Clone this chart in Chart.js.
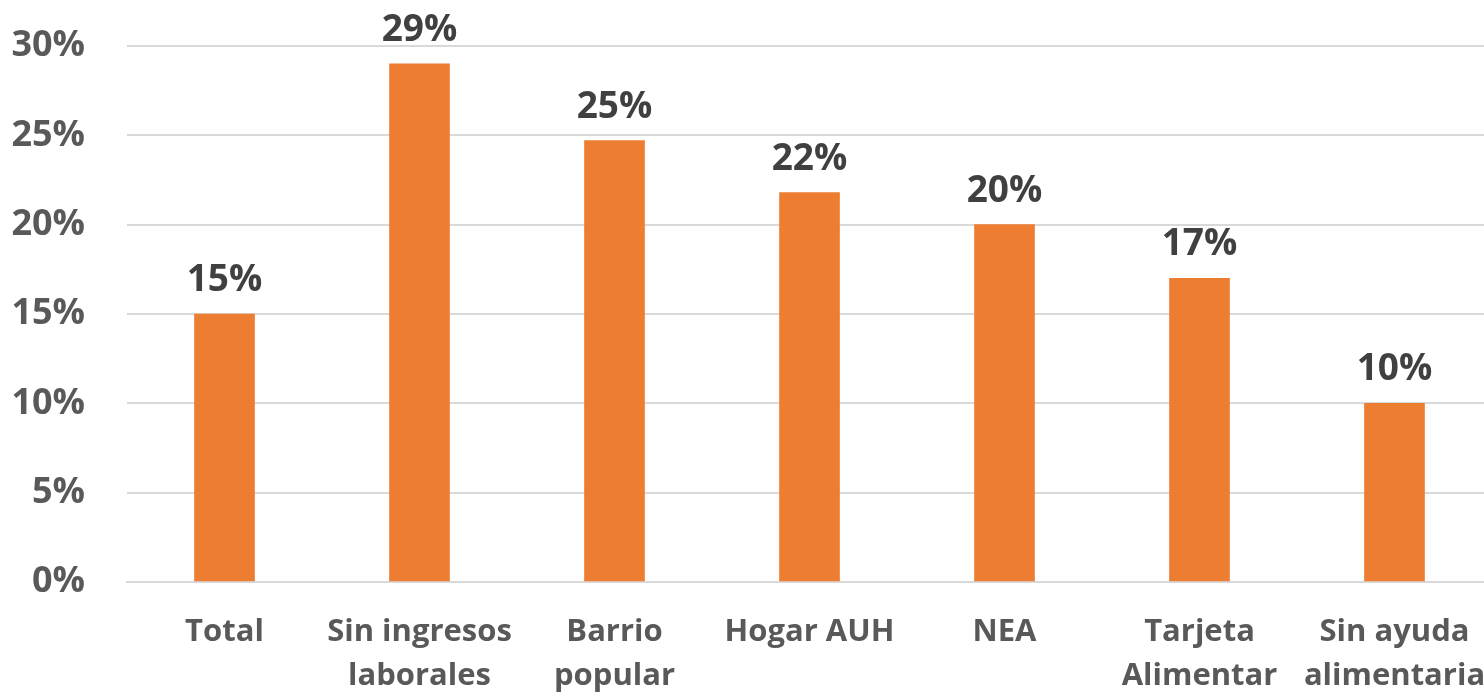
<!DOCTYPE html>
<html>
<head>
<meta charset="utf-8">
<script src="https://cdn.jsdelivr.net/npm/chart.js@4"></script>
<style>
html,body{margin:0;padding:0;background:#fff;overflow:hidden;}
#wrap{position:relative;width:1492px;height:693px;}
</style>
</head>
<body>
<div id="wrap"><canvas id="c"></canvas></div>
<script>
const categories = [["Total"], ["Sin ingresos", "laborales"], ["Barrio", "popular"], ["Hogar AUH"], ["NEA"], ["Tarjeta", "Alimentar"], ["Sin ayuda", "alimentaria"]];
const values = [15.0, 29.0, 24.7, 21.8, 20.0, 17.0, 10.0];
const valueLabels = ["15%", "29%", "25%", "22%", "20%", "17%", "10%"];
const yTicks = [0, 5, 10, 15, 20, 25, 30];

const FONT = "'Open Sans', Lato, sans-serif";

const labelPlugin = {
  id: 'barLabels',
  afterDatasetsDraw(chart) {
    const ctx = chart.ctx;
    const meta = chart.getDatasetMeta(0);
    ctx.save();
    ctx.font = "bold 37px " + FONT;
    ctx.fillStyle = "#404040";
    ctx.textAlign = "center";
    ctx.textBaseline = "alphabetic";
    meta.data.forEach((bar, i) => {
      ctx.fillText(valueLabels[i], bar.x, bar.y - 23);
    });
    ctx.restore();
  }
};

new Chart(document.getElementById('c'), {
  type: 'bar',
  data: {
    labels: categories,
    datasets: [{
      data: values,
      backgroundColor: '#ED7D31',
      borderWidth: 0,
      barThickness: 60
    }]
  },
  options: {
    responsive: true,
    maintainAspectRatio: false,
    animation: false,
    layout: { padding: { left: 0, top: 46, right: 0, bottom: 0 } },
    plugins: { legend: { display: false }, tooltip: { enabled: false } },
    scales: {
      x: {
        afterFit(s) { s.height = 111; s.paddingLeft = 0; s.paddingRight = 0; },
        grid: { display: false, drawTicks: false },
        border: { display: true, color: '#D9D9D9', width: 2 },
        ticks: {
          color: '#595959',
          font: { family: FONT, size: 31, weight: 'bold', lineHeight: 1.42 },
          padding: 28,
          maxRotation: 0,
          autoSkip: false
        }
      },
      y: {
        min: 0, max: 30,
        afterBuildTicks(axis) { axis.ticks = yTicks.map(v => ({ value: v })); },
        afterFit(s) { s.width = 127; s.paddingTop = 0; s.paddingBottom = 0; },
        grid: { color: '#D9D9D9', lineWidth: 2, drawTicks: false },
        border: { display: false },
        ticks: {
          color: '#595959',
          font: { family: FONT, size: 36, weight: 'bold' },
          padding: 42,
          callback: v => v + '%'
        }
      }
    }
  },
  plugins: [labelPlugin]
});
</script>
</body>
</html>
